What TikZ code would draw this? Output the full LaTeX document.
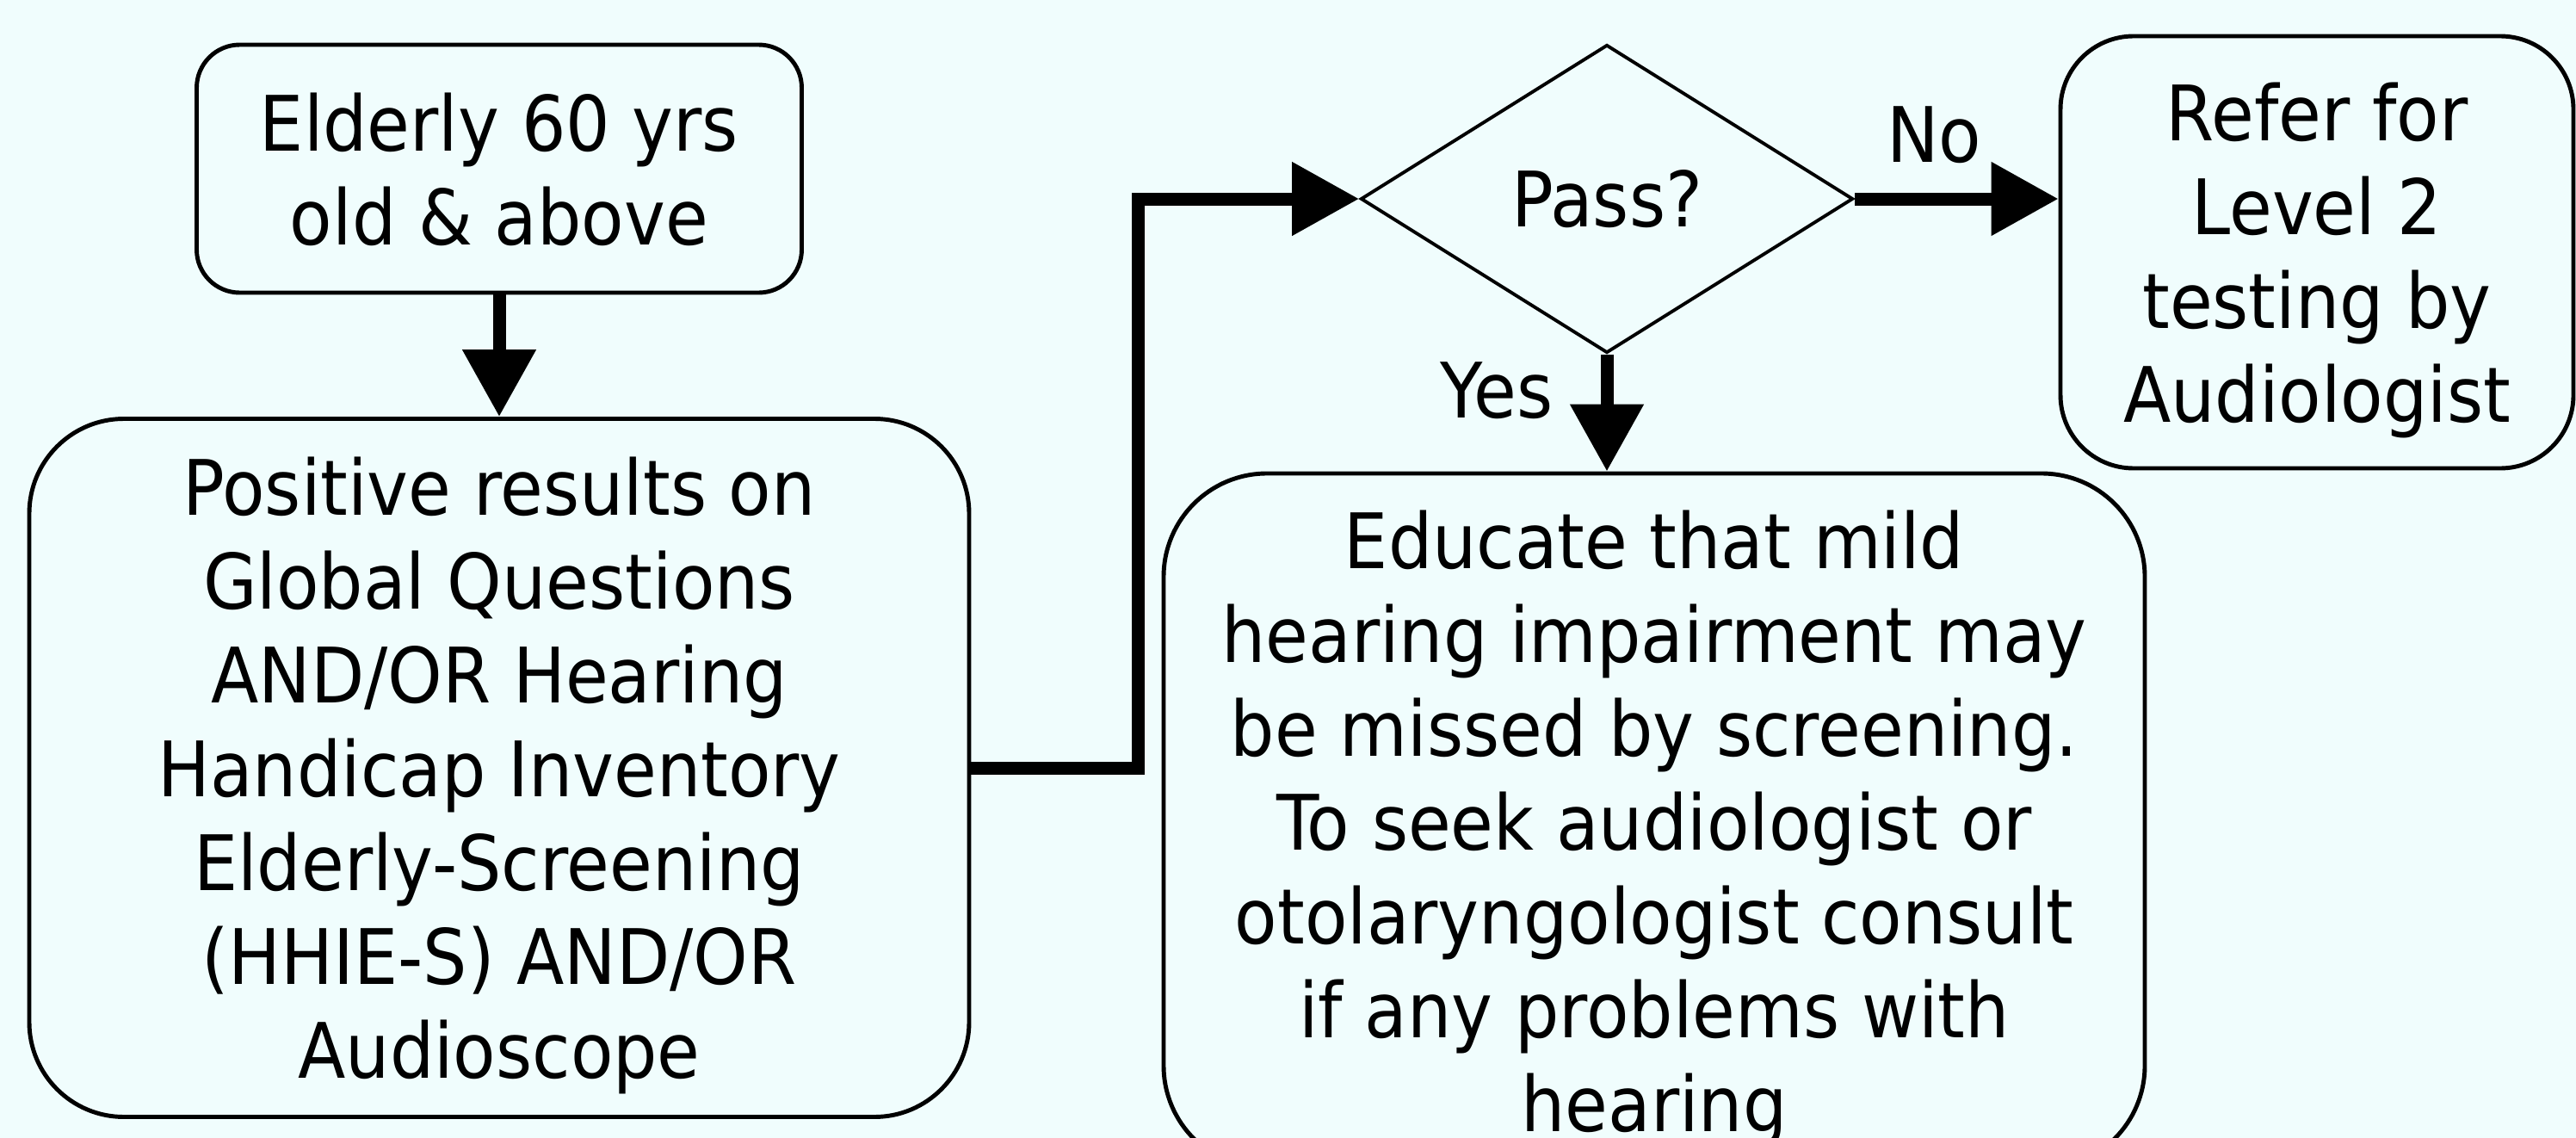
\documentclass[tikz,border=0pt]{standalone}
\usepackage{fontspec}
\setmainfont{DejaVu Sans}[FakeStretch=0.91]
\usetikzlibrary{shapes.geometric,arrows.meta}
\definecolor{bgcyan}{RGB}{240,253,253}
\tikzset{every node/.style={font=\fontsize{25.3}{31}\selectfont, align=center, inner sep=0pt},
  box/.style={draw, line width=1.4pt, rounded corners=#1, text depth=0pt}, box/.default=0.5cm,
  decision/.style={draw, diamond, line width=1.1pt, minimum width=5.72cm, minimum height=3.58cm},
  flow/.style={line width=0.15cm, -{Triangle[length=7.8mm,width=8.2mm]}}}

\begin{document}
\begin{tikzpicture}
  \useasboundingbox (0,0) rectangle (29.93,-13.22);
  \fill[bgcyan] (0,0) rectangle (29.93,-13.22);

  \node[box, minimum width=7.03cm, minimum height=2.88cm] (start) at (5.80,-1.96)
    {Elderly 60 yrs\\old \& above};
  \node[box=1.1cm, minimum width=10.92cm, minimum height=8.11cm] (screen) at (5.80,-8.92)
    {Positive results on\\Global Questions\\AND/OR Hearing\\Handicap Inventory\\Elderly-Screening\\(HHIE-S) AND/OR\\Audioscope};
  \node[decision] (pass) at (18.67,-2.31) {Pass?};
  \node[box=0.85cm, minimum width=5.96cm, minimum height=5.02cm] (refer) at (26.92,-2.93)
    {Refer for\\Level 2\\testing by\\Audiologist};
  \node[box=1.2cm, minimum width=11.40cm, minimum height=8.08cm] (educate) at (19.22,-9.54)
    {Educate that mild\\hearing impairment may\\be missed by screening.\\To seek audiologist or\\otolaryngologist consult\\if any problems with\\hearing};

  \draw[flow] (start) -- (screen);
  \draw[flow] (screen.east) -- ++(1.94,0) |- (pass.west);
  \draw[flow] (pass.east) -- (pass.east -| refer.west)
    node[pos=0.39, above=0.34cm] (no) {No};
  \draw[flow] (pass.south) -- (pass.south |- educate.north)
    node[pos=0.31, left=0.55cm] (yes) {Yes};
\end{tikzpicture}
\end{document}
